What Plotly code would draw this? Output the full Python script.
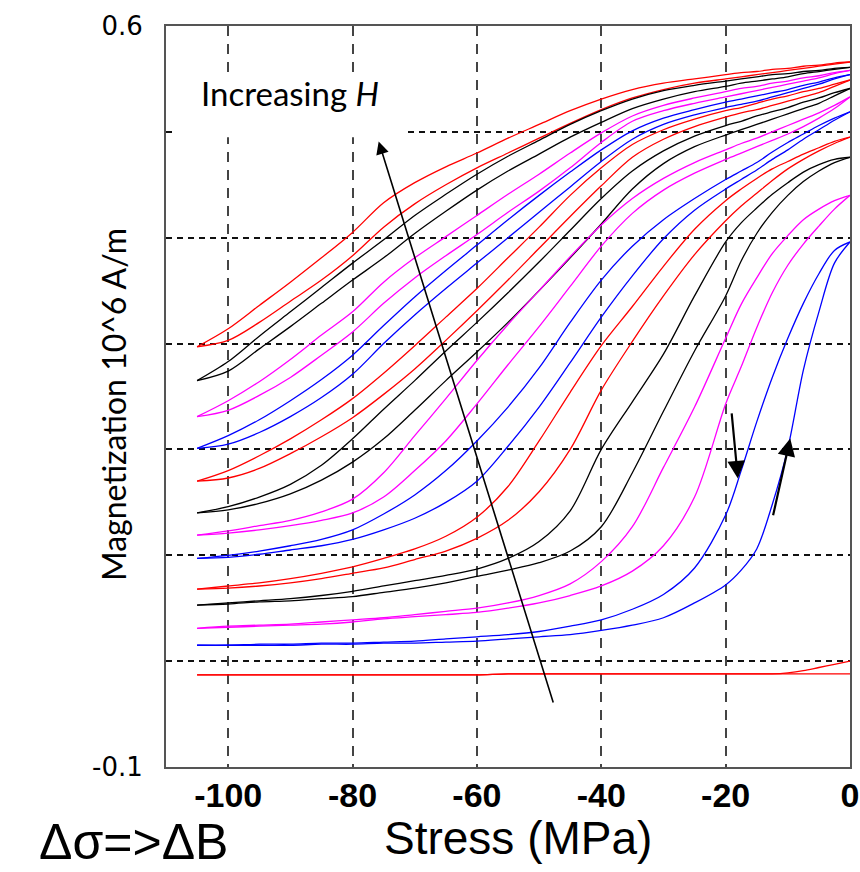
import plotly.graph_objects as go

# Stress sample points (MPa) shared by every branch
stress = [-105, -100, -95, -90, -85, -80, -75, -70, -65, -60, -55, -50, -45, -40,
          -35, -30, -25, -20, -17.5, -15, -12.5, -10, -7.5, -5, -2.5, 0]

# Magnetization (10^6 A/m) per loop: "dec" = branch traced while stress goes down,
# "inc" = branch traced while stress comes back up. Loops run from highest H to lowest.
loop01_dec = [0.297, 0.314, 0.336, 0.358, 0.381, 0.405, 0.433, 0.452, 0.467, 0.480, 0.494, 0.507, 0.520,
              0.531, 0.540, 0.546, 0.550, 0.554, 0.556, 0.557, 0.559, 0.560, 0.562, 0.563, 0.565, 0.566]
loop01_inc = [0.297, 0.303, 0.320, 0.340, 0.360, 0.383, 0.410, 0.432, 0.450, 0.466, 0.480, 0.494, 0.508,
              0.521, 0.532, 0.540, 0.546, 0.550, 0.552, 0.554, 0.556, 0.558, 0.560, 0.562, 0.564, 0.566]
loop02_dec = [0.265, 0.283, 0.307, 0.330, 0.353, 0.376, 0.398, 0.421, 0.441, 0.460, 0.477, 0.492, 0.507,
              0.520, 0.531, 0.539, 0.544, 0.548, 0.550, 0.552, 0.554, 0.555, 0.557, 0.558, 0.560, 0.561]
loop02_inc = [0.265, 0.274, 0.295, 0.316, 0.338, 0.360, 0.381, 0.404, 0.425, 0.445, 0.463, 0.479, 0.495,
              0.509, 0.522, 0.531, 0.538, 0.543, 0.546, 0.548, 0.550, 0.552, 0.555, 0.557, 0.559, 0.561]
loop03_dec = [0.231, 0.246, 0.264, 0.285, 0.308, 0.330, 0.358, 0.381, 0.401, 0.421, 0.441, 0.460, 0.480,
              0.499, 0.515, 0.525, 0.532, 0.538, 0.541, 0.543, 0.546, 0.548, 0.551, 0.553, 0.556, 0.558]
loop03_inc = [0.231, 0.237, 0.251, 0.268, 0.289, 0.311, 0.338, 0.362, 0.383, 0.403, 0.424, 0.444, 0.466,
              0.490, 0.510, 0.520, 0.527, 0.533, 0.536, 0.539, 0.542, 0.545, 0.548, 0.551, 0.555, 0.558]
loop04_dec = [0.201, 0.213, 0.228, 0.246, 0.266, 0.289, 0.317, 0.344, 0.369, 0.393, 0.417, 0.440, 0.462,
              0.483, 0.501, 0.513, 0.521, 0.528, 0.531, 0.534, 0.537, 0.540, 0.544, 0.547, 0.551, 0.554]
loop04_inc = [0.201, 0.205, 0.216, 0.231, 0.249, 0.271, 0.300, 0.327, 0.352, 0.376, 0.400, 0.424, 0.448,
              0.472, 0.493, 0.507, 0.516, 0.523, 0.526, 0.529, 0.533, 0.537, 0.541, 0.545, 0.550, 0.554]
loop05_dec = [0.170, 0.180, 0.194, 0.210, 0.228, 0.248, 0.272, 0.298, 0.325, 0.352, 0.381, 0.410, 0.440,
              0.466, 0.488, 0.502, 0.512, 0.520, 0.523, 0.527, 0.531, 0.534, 0.538, 0.541, 0.545, 0.549]
loop05_inc = [0.170, 0.173, 0.182, 0.196, 0.212, 0.230, 0.252, 0.276, 0.303, 0.331, 0.360, 0.390, 0.420,
              0.449, 0.476, 0.493, 0.505, 0.514, 0.518, 0.521, 0.525, 0.529, 0.533, 0.537, 0.543, 0.549]
loop06_dec = [0.140, 0.146, 0.155, 0.167, 0.185, 0.210, 0.238, 0.265, 0.293, 0.320, 0.348, 0.377, 0.407,
              0.437, 0.463, 0.482, 0.496, 0.506, 0.510, 0.515, 0.519, 0.523, 0.528, 0.532, 0.537, 0.541]
loop06_inc = [0.140, 0.143, 0.149, 0.158, 0.171, 0.188, 0.210, 0.237, 0.265, 0.292, 0.320, 0.350, 0.381,
              0.413, 0.446, 0.470, 0.486, 0.497, 0.502, 0.507, 0.512, 0.517, 0.522, 0.527, 0.534, 0.541]
loop07_dec = [0.119, 0.123, 0.128, 0.133, 0.141, 0.153, 0.178, 0.213, 0.248, 0.284, 0.318, 0.350, 0.382,
              0.412, 0.437, 0.456, 0.471, 0.483, 0.489, 0.494, 0.500, 0.506, 0.512, 0.518, 0.525, 0.533]
loop07_inc = [0.119, 0.121, 0.124, 0.128, 0.133, 0.140, 0.155, 0.180, 0.208, 0.243, 0.280, 0.316, 0.354,
              0.392, 0.423, 0.445, 0.461, 0.474, 0.480, 0.486, 0.492, 0.498, 0.505, 0.513, 0.522, 0.533]
loop08_dec = [0.097, 0.100, 0.104, 0.109, 0.115, 0.124, 0.139, 0.157, 0.180, 0.208, 0.240, 0.277, 0.320,
              0.360, 0.392, 0.417, 0.437, 0.455, 0.463, 0.471, 0.481, 0.490, 0.498, 0.506, 0.513, 0.519]
loop08_inc = [0.097, 0.098, 0.101, 0.105, 0.109, 0.115, 0.124, 0.135, 0.150, 0.170, 0.203, 0.240, 0.282,
              0.325, 0.364, 0.399, 0.426, 0.446, 0.455, 0.464, 0.474, 0.483, 0.493, 0.502, 0.511, 0.519]
loop09_dec = [0.068, 0.071, 0.074, 0.078, 0.083, 0.089, 0.097, 0.106, 0.118, 0.136, 0.165, 0.208, 0.254,
              0.298, 0.335, 0.373, 0.408, 0.435, 0.446, 0.456, 0.465, 0.472, 0.479, 0.485, 0.491, 0.495]
loop09_inc = [0.068, 0.069, 0.071, 0.074, 0.078, 0.083, 0.088, 0.096, 0.104, 0.116, 0.133, 0.160, 0.200,
              0.256, 0.302, 0.345, 0.384, 0.416, 0.430, 0.442, 0.454, 0.465, 0.474, 0.482, 0.489, 0.495]
loop10_dec = [0.053, 0.055, 0.057, 0.059, 0.062, 0.066, 0.071, 0.076, 0.081, 0.087, 0.097, 0.113, 0.142,
              0.200, 0.245, 0.290, 0.345, 0.396, 0.414, 0.428, 0.441, 0.452, 0.462, 0.469, 0.474, 0.476]
loop10_inc = [0.053, 0.054, 0.056, 0.057, 0.059, 0.061, 0.065, 0.069, 0.074, 0.080, 0.086, 0.093, 0.104,
              0.127, 0.178, 0.236, 0.293, 0.345, 0.378, 0.404, 0.424, 0.440, 0.453, 0.463, 0.471, 0.476]
loop11_dec = [0.031, 0.033, 0.034, 0.035, 0.037, 0.039, 0.041, 0.044, 0.047, 0.050, 0.055, 0.062, 0.073,
              0.094, 0.127, 0.183, 0.240, 0.305, 0.337, 0.362, 0.385, 0.402, 0.417, 0.427, 0.435, 0.440]
loop11_inc = [0.031, 0.032, 0.033, 0.034, 0.035, 0.037, 0.040, 0.042, 0.044, 0.046, 0.050, 0.055, 0.062,
              0.071, 0.085, 0.109, 0.155, 0.243, 0.278, 0.315, 0.348, 0.374, 0.394, 0.411, 0.427, 0.440]
loop12_dec = [0.015, 0.015, 0.016, 0.016, 0.017, 0.017, 0.018, 0.019, 0.021, 0.023, 0.025, 0.028, 0.033,
              0.039, 0.049, 0.063, 0.088, 0.138, 0.180, 0.226, 0.268, 0.305, 0.338, 0.366, 0.388, 0.396]
loop12_inc = [0.015, 0.015, 0.015, 0.015, 0.016, 0.016, 0.017, 0.017, 0.018, 0.019, 0.021, 0.023, 0.025,
              0.029, 0.034, 0.041, 0.055, 0.072, 0.086, 0.106, 0.148, 0.201, 0.275, 0.330, 0.376, 0.396]
loop13_dec = [-0.013, -0.013, -0.013, -0.013, -0.013, -0.013, -0.013, -0.013, -0.013, -0.013, -0.012, -0.012, -0.012,
              -0.012, -0.012, -0.012, -0.012, -0.012, -0.012, -0.012, -0.012, -0.011, -0.009, -0.006, -0.003, 0.000]
loop13_inc = [-0.013, -0.013, -0.013, -0.013, -0.013, -0.013, -0.013, -0.013, -0.013, -0.013, -0.012, -0.012, -0.012,
              -0.012, -0.012, -0.012, -0.012, -0.012, -0.012, -0.012, -0.012, -0.012, -0.012, -0.012, -0.012, -0.012]

loop_colors = ["#ff0000", "#000000", "#ff00ff", "#0000ff"] * 3 + ["#ff0000"]
loops = [
    (loop01_dec, loop01_inc), (loop02_dec, loop02_inc), (loop03_dec, loop03_inc),
    (loop04_dec, loop04_inc), (loop05_dec, loop05_inc), (loop06_dec, loop06_inc),
    (loop07_dec, loop07_inc), (loop08_dec, loop08_inc), (loop09_dec, loop09_inc),
    (loop10_dec, loop10_inc), (loop11_dec, loop11_inc), (loop12_dec, loop12_inc),
    (loop13_dec, loop13_inc),
]

x_ticks = [-100, -80, -60, -40, -20, 0]
x_ticktext = ["-100", "-80", "-60", "-40", "-20", "0"]
y_ticks = [-0.1, 0.0, 0.1, 0.2, 0.3, 0.4, 0.5, 0.6]
y_ticktext = ["-0.1", "", "", "", "", "", "", "0.6"]

fig = go.Figure()
for color, (dec, inc) in zip(loop_colors, loops):
    for branch in (dec, inc):
        fig.add_trace(go.Scatter(
            x=stress, y=branch, mode="lines",
            line=dict(color=color, width=1.3, shape="spline", smoothing=0.9),
            showlegend=False, hoverinfo="skip",
        ))

# white label box that hides the grid behind "Increasing H"
fig.add_shape(type="rect", xref="x", yref="y", layer="between",
              x0=-108.3, x1=-71.6, y0=0.495, y1=0.553,
              fillcolor="white", line=dict(width=0))

arrow = dict(text="", showarrow=True, arrowhead=2, arrowcolor="black",
             axref="x", ayref="y", xref="x", yref="y", standoff=0)
fig.add_annotation(x=-75.8, y=0.491, ax=-47.65, ay=-0.0405,
                   arrowsize=1.6, arrowwidth=1.6, **arrow)
fig.add_annotation(x=-18.03, y=0.1725, ax=-19.05, ay=0.2354,
                   arrowsize=1.6, arrowwidth=2.2, **arrow)
fig.add_annotation(x=-9.61, y=0.2103, ax=-12.42, ay=0.1363,
                   arrowsize=1.6, arrowwidth=2.2, **arrow)

fig.add_annotation(x=-90.1, y=0.537, xref="x", yref="y", showarrow=False,
                   xanchor="center", yanchor="middle",
                   text="Increasing <i>H</i>",
                   font=dict(family="Lato", size=33, color="black"))

fig.add_annotation(x=-53 / 684, y=0.4885, xref="paper", yref="paper", showarrow=False,
                   xanchor="center", yanchor="middle",
                   text="Magnetization 10^6 A/m", textangle=-90,
                   font=dict(family="Lato", size=32, color="black"))
fig.add_annotation(x=352 / 684, y=-71 / 741, xref="paper", yref="paper", showarrow=False,
                   xanchor="center", yanchor="middle",
                   text="Stress (MPa)",
                   font=dict(family="Liberation Sans", size=46, color="black"))
fig.add_annotation(x=-32.5 / 684, y=-104 / 741, xref="paper", yref="paper", showarrow=False,
                   xanchor="center", yanchor="bottom", borderpad=0,
                   text="Δσ=>ΔB",
                   font=dict(family="Liberation Sans", size=50, color="black"))

fig.update_layout(
    width=860, height=872,
    margin=dict(l=166, r=10, t=26, b=105, autoexpand=False),
    paper_bgcolor="white", plot_bgcolor="white",
    xaxis=dict(range=[-110, 0], tickvals=x_ticks, ticktext=x_ticktext, ticks="",
               automargin=False,
               tickfont=dict(family="Liberation Sans", size=34, color="black", weight="bold"),
               ticklabelstandoff=-3,
               showgrid=True, gridcolor="#444444", gridwidth=1.5, griddash="10px,8px",
               zeroline=False, showline=True, mirror=True, linecolor="#555555", linewidth=2),
    yaxis=dict(range=[-0.1, 0.6], tickvals=y_ticks, ticktext=y_ticktext, ticks="",
               automargin=False,
               tickfont=dict(family="DejaVu Sans", size=26, color="black"),
               ticklabelstandoff=16,
               showgrid=True, gridcolor="#111111", gridwidth=1.5, griddash="6px,5px",
               zeroline=False, showline=True, mirror=True, linecolor="#555555", linewidth=2),
)

fig.write_html("out.html")
